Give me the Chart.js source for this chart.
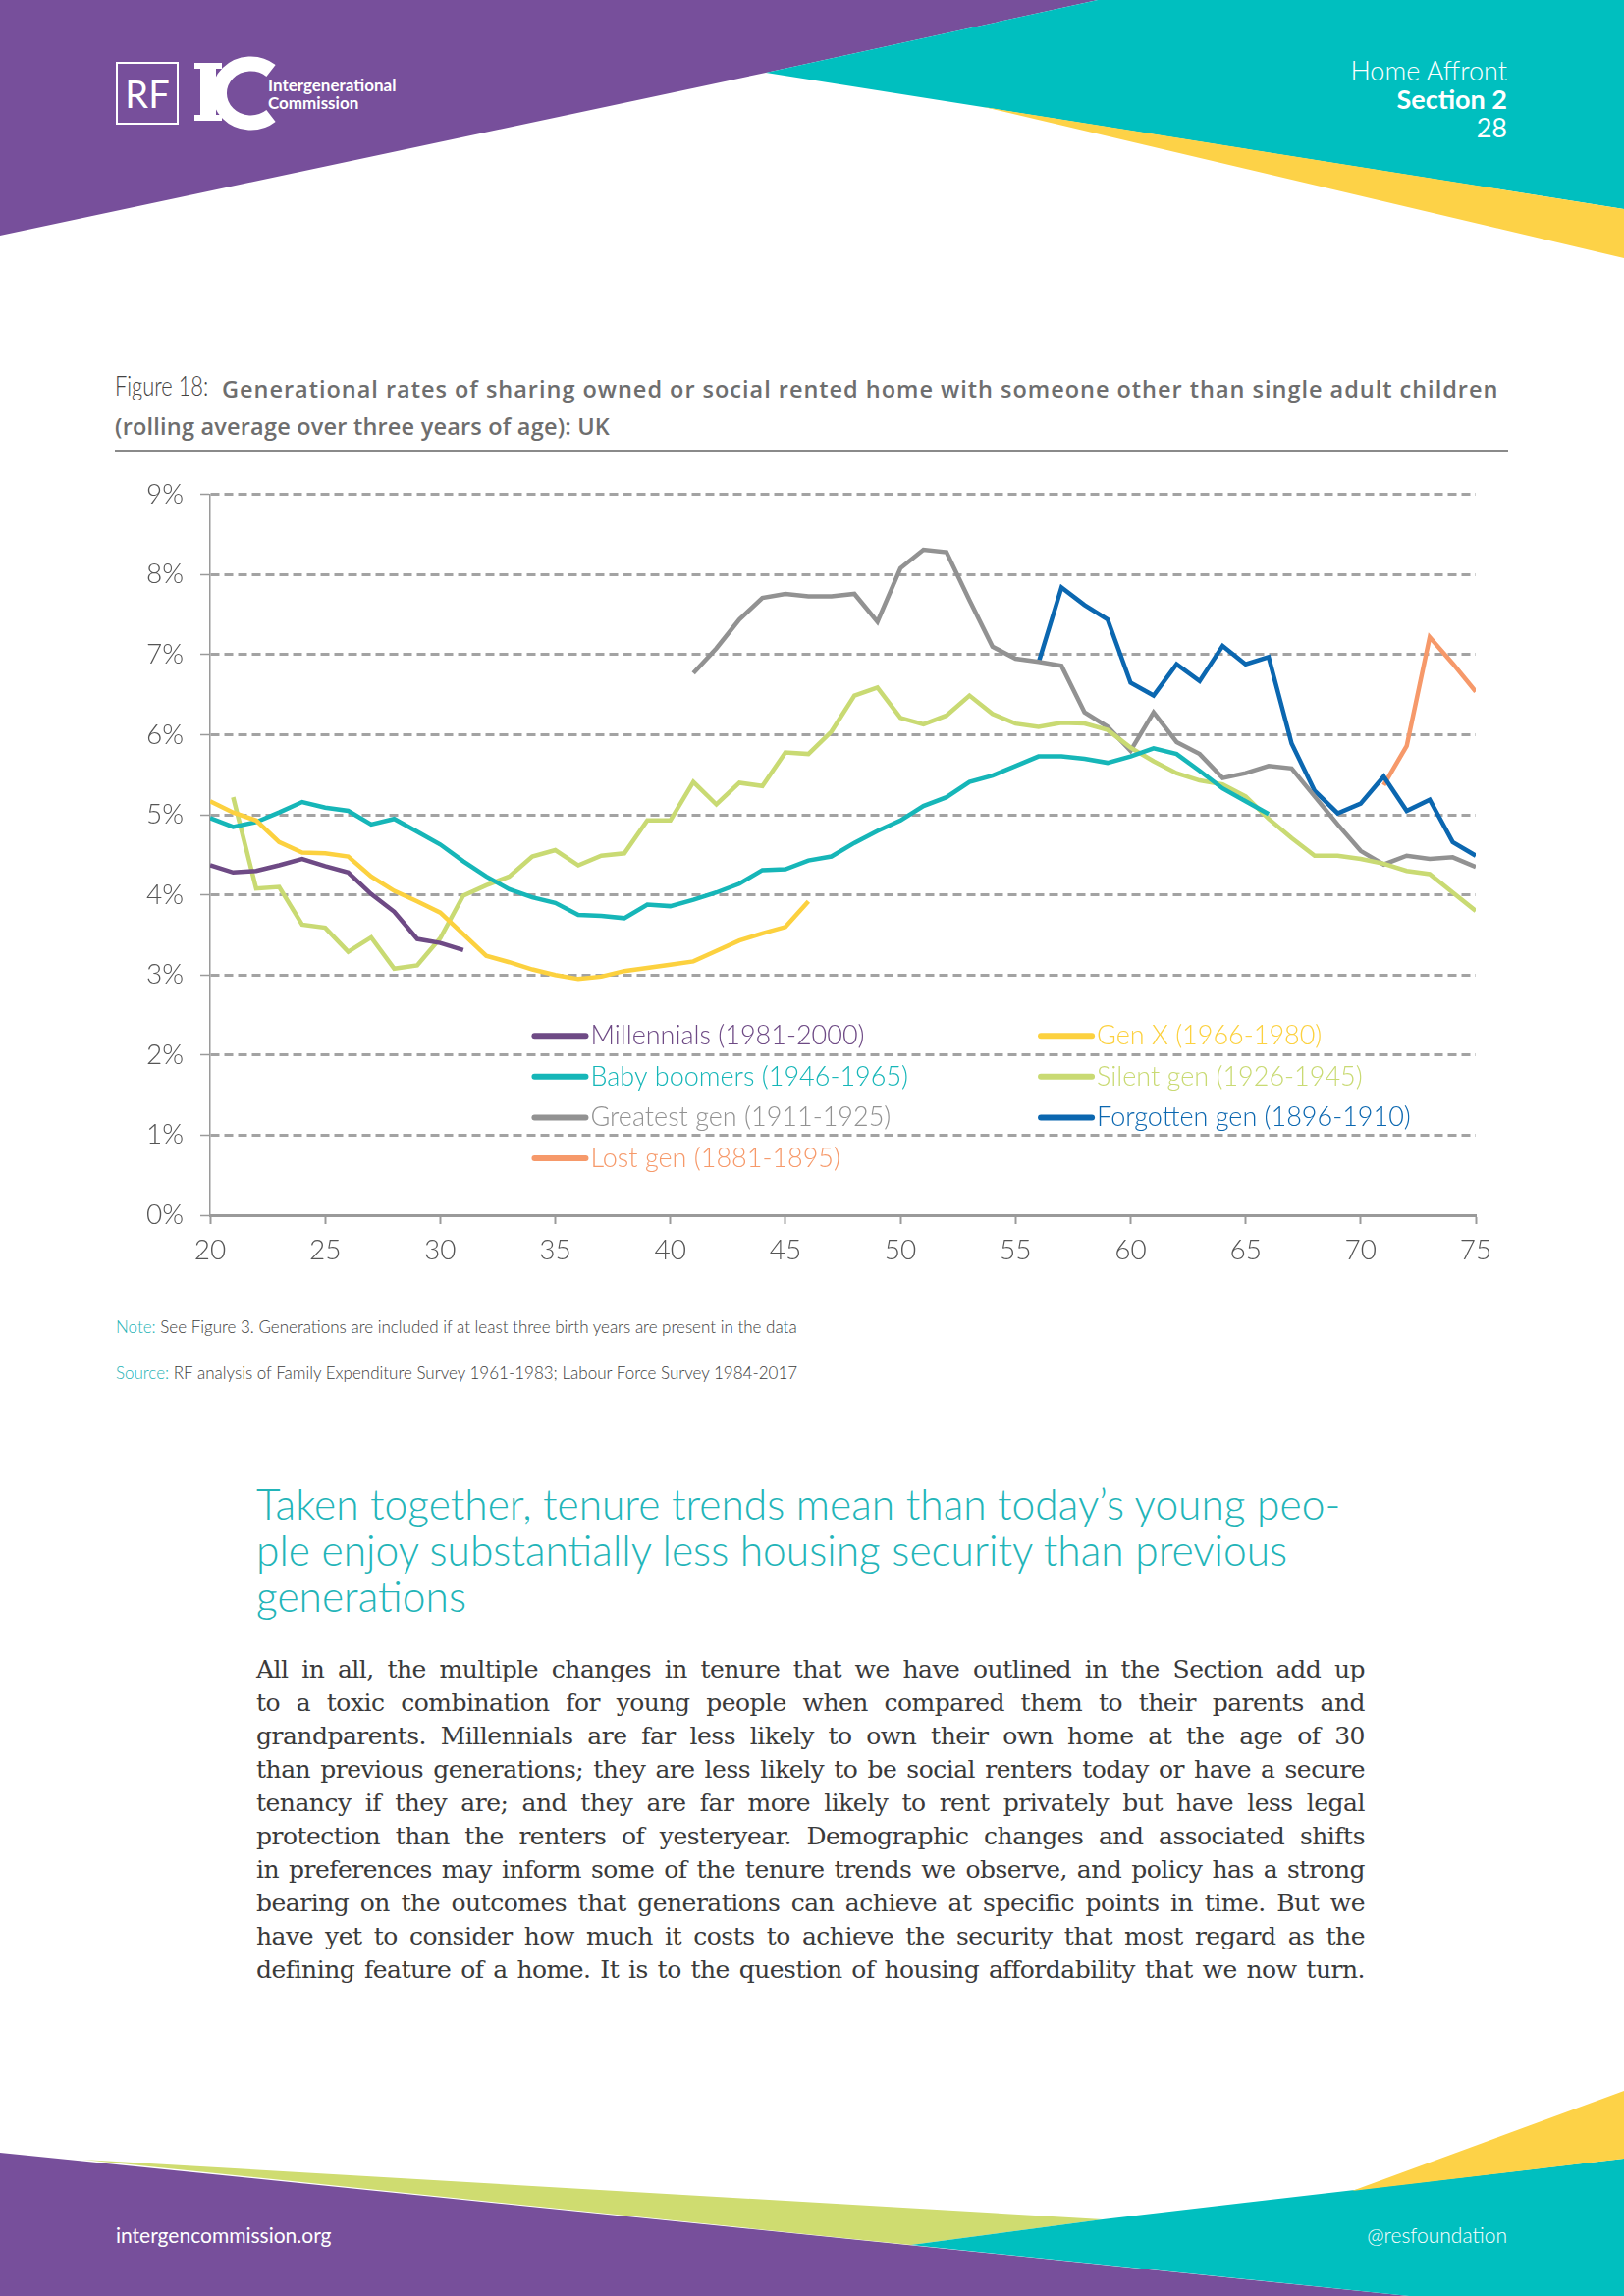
<!DOCTYPE html>
<html>
<head>
<meta charset="utf-8">
<script src="https://cdn.jsdelivr.net/npm/chart.js@4.4.1/dist/chart.umd.min.js"></script>
<style>
html,body{margin:0;padding:0;}
body{width:1654px;height:2339px;position:relative;background:#fff;overflow:hidden;font-family:Lato,"Open Sans",sans-serif;}
.abs{position:absolute;}
#figlab{left:117px;top:375px;white-space:nowrap;font-size:28px;font-weight:300;color:#444;transform:scaleX(0.78);transform-origin:0 0;}
#title1{left:226px;top:380px;white-space:nowrap;color:#6e6e6e;font-family:"Open Sans",sans-serif;font-size:23.5px;font-weight:600;letter-spacing:0.98px;}
#title2{left:117px;top:418px;white-space:nowrap;color:#6e6e6e;font-family:"Open Sans",sans-serif;font-size:23.5px;font-weight:600;letter-spacing:0.2px;}
#rule{left:117px;top:458px;width:1419px;height:0;border-top:2px solid #8a8a8a;}
#chartbox{left:60px;top:470px;width:1500px;height:840px;}
.note{left:118px;font-size:17px;font-weight:300;color:#3c3c3c;white-space:nowrap;}
.note span{color:#1fb3b6;}
#heading{left:261px;top:1508px;width:1200px;font-size:42.5px;font-weight:300;color:#22b4b8;line-height:47px;white-space:nowrap;}
#body{left:261px;top:1684px;width:1129px;font-family:"DejaVu Serif",serif;font-size:21px;color:#3a3a3a;line-height:34px;letter-spacing:-0.5px;}
#body div{text-align:justify;text-align-last:justify;white-space:nowrap;}
</style>
</head>
<body>
<svg class="abs" style="left:0;top:0" width="1654" height="2339">
  <polygon points="0,0 1118,0 780,74 0,240" fill="#774f9b"/>
  <polygon points="780,74 1118,0 1654,0 1654,213" fill="#00bfbf"/>
  <polygon points="1002,109 1654,213 1654,263" fill="#fdd247"/>
  <polygon points="0,2193 1435,2339 0,2339" fill="#774f9b"/>
  <polygon points="84,2200 1123,2261 928,2287" fill="#cfdc70"/>
  <polygon points="928,2287 1123,2261 1654,2199 1654,2339 1435,2339" fill="#00bfbf"/>
  <polygon points="1377,2232 1654,2130 1654,2199" fill="#fdd247"/>
  <rect x="119" y="64" width="62" height="62" fill="none" stroke="#fff" stroke-width="2"/>
  <text x="150" y="110" fill="#fff" font-family="Lato" font-size="38" font-weight="400" text-anchor="middle">RF</text>
  <rect x="198" y="64" width="28" height="6" fill="#fff"/>
  <rect x="198" y="117" width="28" height="6" fill="#fff"/>
  <rect x="204" y="64" width="16" height="59" fill="#fff"/>
  <path d="M 276 72 A 32 30 0 1 0 276 118" fill="none" stroke="#fff" stroke-width="15"/>
  <text x="273" y="93" fill="#fff" font-family="Lato" font-size="17" font-weight="700">Intergenerational</text>
  <text x="273" y="111" fill="#fff" font-family="Lato" font-size="17" font-weight="700">Commission</text>
  <text x="1535" y="82" fill="#fff" font-family="Lato" font-size="27" font-weight="300" text-anchor="end">Home Affront</text>
  <text x="1535" y="111" fill="#fff" font-family="Lato" font-size="27" font-weight="700" text-anchor="end">Section 2</text>
  <text x="1535" y="140" fill="#fff" font-family="Lato" font-size="27" font-weight="400" text-anchor="end">28</text>
  <text x="118" y="2285" fill="#fff" font-family="Lato" font-size="21" font-weight="400">intergencommission.org</text>
  <text x="1535" y="2285" fill="#fff" font-family="Lato" font-size="21" font-weight="300" text-anchor="end">@resfoundation</text>
</svg>

<div id="figlab" class="abs">Figure 18:</div>
<div id="title1" class="abs">Generational rates of sharing owned or social rented home with someone other than single adult children</div>
<div id="title2" class="abs">(rolling average over three years of age): UK</div>
<div id="rule" class="abs"></div>

<div id="chartbox" class="abs"><canvas id="c" width="1500" height="840"></canvas></div>

<div class="abs note" style="top:1341px;"><span>Note:</span> See Figure 3. Generations are included if at least three birth years are present in the data</div>
<div class="abs note" style="top:1388px;"><span>Source:</span> RF analysis of Family Expenditure Survey 1961-1983; Labour Force Survey 1984-2017</div>

<div id="heading" class="abs">Taken together, tenure trends mean than today’s young peo-<br>ple enjoy substantially less housing security than previous<br>generations</div>

<div id="body" class="abs">
<div>All in all, the multiple changes in tenure that we have outlined in the Section add up</div>
<div>to a toxic combination for young people when compared them to their parents and</div>
<div>grandparents. Millennials are far less likely to own their own home at the age of 30</div>
<div>than previous generations; they are less likely to be social renters today or have a secure</div>
<div>tenancy if they are; and they are far more likely to rent privately but have less legal</div>
<div>protection than the renters of yesteryear. Demographic changes and associated shifts</div>
<div>in preferences may inform some of the tenure trends we observe, and policy has a strong</div>
<div>bearing on the outcomes that generations can achieve at specific points in time. But we</div>
<div>have yet to consider how much it costs to achieve the security that most regard as the</div>
<div>defining feature of a home. It is to the question of housing affordability that we now turn.</div>
</div>

<script>
// ---- data (share, %) by age ----
const ageTicks = [20, 25, 30, 35, 40, 45, 50, 55, 60, 65, 70, 75];
const yTicks = [0, 1, 2, 3, 4, 5, 6, 7, 8, 9];

const seriesNames = [
  "Millennials (1981-2000)", "Gen X (1966-1980)",
  "Baby boomers (1946-1965)", "Silent gen (1926-1945)",
  "Greatest gen (1911-1925)", "Forgotten gen (1896-1910)",
  "Lost gen (1881-1895)"
];
const seriesStartAge = [20, 20, 20, 21, 41, 56, 71];

const millennials = [4.37,4.28,4.30,4.37,4.45,4.36,4.28,4.01,3.79,3.45,3.40,3.31];
const genX = [5.17,5.03,4.93,4.66,4.53,4.52,4.48,4.23,4.05,3.92,3.78,3.51,3.24,3.16,3.07,3.00,2.95,2.98,3.05,3.09,3.13,3.17,3.30,3.43,3.52,3.60,3.92];
const babyBoomers = [4.96,4.85,4.91,5.03,5.16,5.09,5.05,4.88,4.95,4.79,4.63,4.42,4.23,4.07,3.97,3.90,3.75,3.74,3.71,3.88,3.86,3.94,4.03,4.14,4.31,4.32,4.43,4.48,4.65,4.80,4.93,5.11,5.22,5.41,5.49,5.61,5.73,5.73,5.70,5.65,5.73,5.83,5.76,5.55,5.33,5.17,5.01];
const silentGen = [5.22,4.08,4.10,3.63,3.59,3.29,3.47,3.08,3.12,3.46,3.99,4.12,4.23,4.48,4.56,4.37,4.49,4.52,4.93,4.93,5.41,5.13,5.40,5.36,5.78,5.76,6.04,6.49,6.59,6.21,6.13,6.24,6.49,6.26,6.14,6.10,6.15,6.14,6.06,5.84,5.67,5.52,5.43,5.38,5.23,4.95,4.71,4.49,4.49,4.45,4.39,4.30,4.26,4.03,3.80];
const greatestGen = [6.77,7.08,7.44,7.71,7.76,7.73,7.73,7.76,7.41,8.08,8.31,8.28,7.68,7.10,6.95,6.91,6.86,6.28,6.10,5.80,6.28,5.91,5.76,5.46,5.52,5.61,5.58,5.23,4.88,4.55,4.38,4.49,4.45,4.47,4.35];
const forgottenGen = [6.90,7.84,7.62,7.44,6.65,6.49,6.88,6.67,7.11,6.88,6.97,5.89,5.30,5.02,5.14,5.48,5.05,5.19,4.66,4.49];
const lostGen = [5.37,5.86,7.22,6.89,6.54];

const seriesValues = [millennials, genX, babyBoomers, silentGen, greatestGen, forgottenGen, lostGen];
const seriesColors = ["#6e4a85", "#fcd13f", "#16b6b8", "#c9da73", "#929292", "#0b67b0", "#f6996a"];

// fit body text: largest size whose widest line fits the column
(function fitBody() {
  const body = document.getElementById('body');
  const lines = Array.from(body.querySelectorAll('div')).map(d => d.textContent);
  const c = document.createElement('canvas').getContext('2d');
  let best = 20;
  for (let s = 20; s <= 25; s += 0.25) {
    c.font = s + 'px "DejaVu Serif"';
    const w = Math.max(...lines.map(t => c.measureText(t).width - 0.5 * t.length));
    if (w <= 1122) best = s;
  }
  body.style.fontSize = best + 'px';
})();

const datasets = seriesValues.map((vals, i) => ({
  label: seriesNames[i],
  data: vals.map((v, k) => ({ x: seriesStartAge[i] + k, y: v })),
  borderColor: seriesColors[i],
  backgroundColor: seriesColors[i],
  borderWidth: 4.5,
  pointRadius: 0,
  tension: 0,
  fill: false
}));

const legendPlugin = {
  id: 'gridLegend',
  afterDatasetsDraw(chart) {
    const ctx = chart.ctx;
    const xs = chart.scales.x, ys = chart.scales.y;
    const colX = [xs.getPixelForValue(34.1), xs.getPixelForValue(56.1)];
    const rowY = [2.24, 1.73, 1.22, 0.71].map(v => ys.getPixelForValue(v));
    ctx.save();
    ctx.font = '300 27px Lato';
    ctx.textBaseline = 'middle';
    chart.data.datasets.forEach((ds, i) => {
      const cx = colX[i % 2], cy = rowY[Math.floor(i / 2)];
      ctx.strokeStyle = ds.borderColor;
      ctx.lineWidth = 6;
      ctx.lineCap = 'round';
      ctx.beginPath();
      ctx.moveTo(cx, cy);
      ctx.lineTo(cx + 52, cy);
      ctx.stroke();
      ctx.fillStyle = ds.borderColor;
      ctx.fillText(ds.label, cx + 57, cy);
    });
    ctx.restore();
  }
};

new Chart(document.getElementById('c'), {
  type: 'line',
  data: { datasets },
  options: {
    responsive: false,
    animation: false,
    devicePixelRatio: 1,
    layout: { padding: { top: 30, right: 57, left: 0, bottom: 0 } },
    plugins: { legend: { display: false }, tooltip: { enabled: false } },
    scales: {
      x: {
        type: 'linear',
        min: 20, max: 75,
        afterFit: s => { s.height = 72; },
        afterBuildTicks: s => { s.ticks = ageTicks.map(v => ({ value: v })); },
        ticks: { color: '#555', font: { family: 'Lato', size: 28, weight: 300 }, padding: 10 },
        grid: { drawOnChartArea: false, drawTicks: true, tickLength: 9, tickColor: '#9a9a9a', tickWidth: 2 },
        border: { display: true, color: '#9a9a9a', width: 3 }
      },
      y: {
        min: 0, max: 9,
        afterFit: s => { s.width = 154; },
        afterBuildTicks: s => { s.ticks = yTicks.map(v => ({ value: v })); },
        ticks: { color: '#555', font: { family: 'Lato', size: 28, weight: 300 }, padding: 17, callback: v => v + '%' },
        grid: { color: ctx => ctx.tick && ctx.tick.value === 0 ? 'rgba(0,0,0,0)' : '#a3a3a3', lineWidth: 3, tickLength: 10, tickColor: '#9a9a9a', tickWidth: 1.5, tickBorderDash: [] },
        border: { display: true, color: '#9a9a9a', width: 1.5, dash: [9, 5] }
      }
    }
  },
  plugins: [legendPlugin]
});
</script>
</body>
</html>
